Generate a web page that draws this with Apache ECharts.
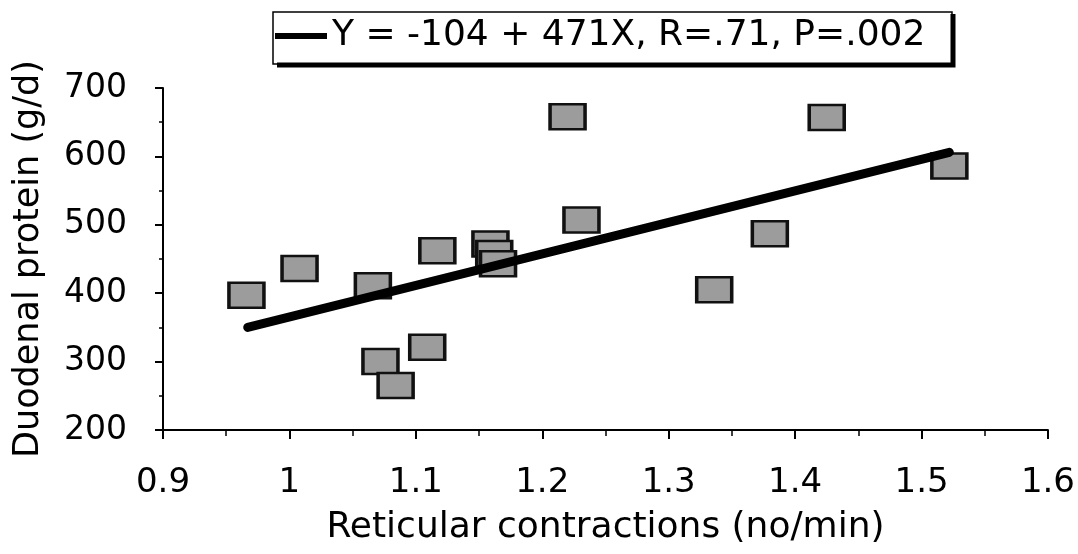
<!DOCTYPE html>
<html>
<head>
<meta charset="utf-8">
<script src="https://cdn.jsdelivr.net/npm/echarts@6/dist/echarts.min.js"></script>
<style>
html,body{margin:0;padding:0;background:#fff;}
#chart{width:1078px;height:554px;}
</style>
</head>
<body>
<div id="chart"></div>
<script>
// ---- data ----
const contractions = [0.966, 1.008, 1.066, 1.072, 1.084, 1.109, 1.117, 1.159, 1.162, 1.165, 1.220, 1.231, 1.336, 1.380, 1.425, 1.522];
const duodenalProtein = [397, 436, 411, 300, 265, 321, 462, 472, 458, 443, 658, 507, 405, 487, 657, 586];
const fitLineX = [0.967, 1.522];
const fitLineY = [350, 606];
const legendLabel = 'Y = -104 + 471X, R=.71, P=.002';
const xName = 'Reticular contractions (no/min)';
const yName = 'Duodenal protein (g/d)';

const FONT = '"DejaVu Sans", "Liberation Sans", sans-serif';

const chart = echarts.init(document.getElementById('chart'), null, {renderer: 'canvas'});

const scatterData = contractions.map((x, i) => [x, duodenalProtein[i]]);
const lineData = fitLineX.map((x, i) => [x, fitLineY[i]]);

chart.setOption({
  animation: false,
  backgroundColor: '#fff',
  grid: {left: 163, right: 29, top: 88, bottom: 124, containLabel: false},
  graphic: [
    {type: 'rect', z: 0, shape: {x: 273, y: 12, width: 679, height: 52},
     style: {fill: '#fff', stroke: '#000', lineWidth: 1.5}},
    {type: 'polyline', z: 0, shape: {points: [[277, 65], [953, 65], [953, 14]]},
     style: {fill: null, stroke: '#000', lineWidth: 5}}
  ],
  legend: {
    data: [{name: legendLabel, icon: 'rect'}],
    left: 275, top: 18,
    itemWidth: 52, itemHeight: 6, itemGap: 4,
    padding: 0,
    textStyle: {color: '#000', fontSize: 36, fontFamily: FONT},
    selectedMode: false, z: 10
  },
  xAxis: {
    type: 'value', position: 'bottom',
    min: 0.9, max: 1.6, interval: 0.1,
    name: xName, nameLocation: 'middle', nameGap: 80,
    nameTextStyle: {color: '#000', fontSize: 36, fontFamily: FONT},
    axisLine: {onZero: false, lineStyle: {color: '#000', width: 2}},
    axisTick: {show: true, inside: false, length: 9, lineStyle: {color: '#000', width: 2}},
    minorTick: {show: true, splitNumber: 2, length: 6, lineStyle: {color: '#000', width: 1.5}},
    axisLabel: {color: '#000', fontSize: 34, fontFamily: FONT, margin: 36},
    splitLine: {show: false}
  },
  yAxis: {
    type: 'value', position: 'left',
    min: 200, max: 700, interval: 100,
    name: yName, nameLocation: 'middle', nameGap: 117, nameRotate: 90,
    nameTextStyle: {color: '#000', fontSize: 35, fontFamily: FONT},
    axisLine: {show: true, onZero: false, lineStyle: {color: '#000', width: 2}},
    axisTick: {show: true, inside: false, length: 8, lineStyle: {color: '#000', width: 2}},
    minorTick: {show: true, splitNumber: 2, length: 4, lineStyle: {color: '#000', width: 1.5}},
    axisLabel: {color: '#000', fontSize: 33, fontFamily: FONT, margin: 36},
    splitLine: {show: false}
  },
  series: [
    {
      name: 'points', type: 'scatter',
      symbol: 'rect', symbolSize: [35, 25],
      itemStyle: {color: '#9c9c9c', borderColor: '#111', borderWidth: 3, opacity: 1},
      data: scatterData, z: 2
    },
    {
      name: legendLabel, type: 'line',
      showSymbol: false, symbol: 'none',
      itemStyle: {color: '#000'},
      lineStyle: {color: '#000', width: 9, cap: 'round'},
      data: lineData, z: 3
    }
  ]
});
</script>
</body>
</html>
